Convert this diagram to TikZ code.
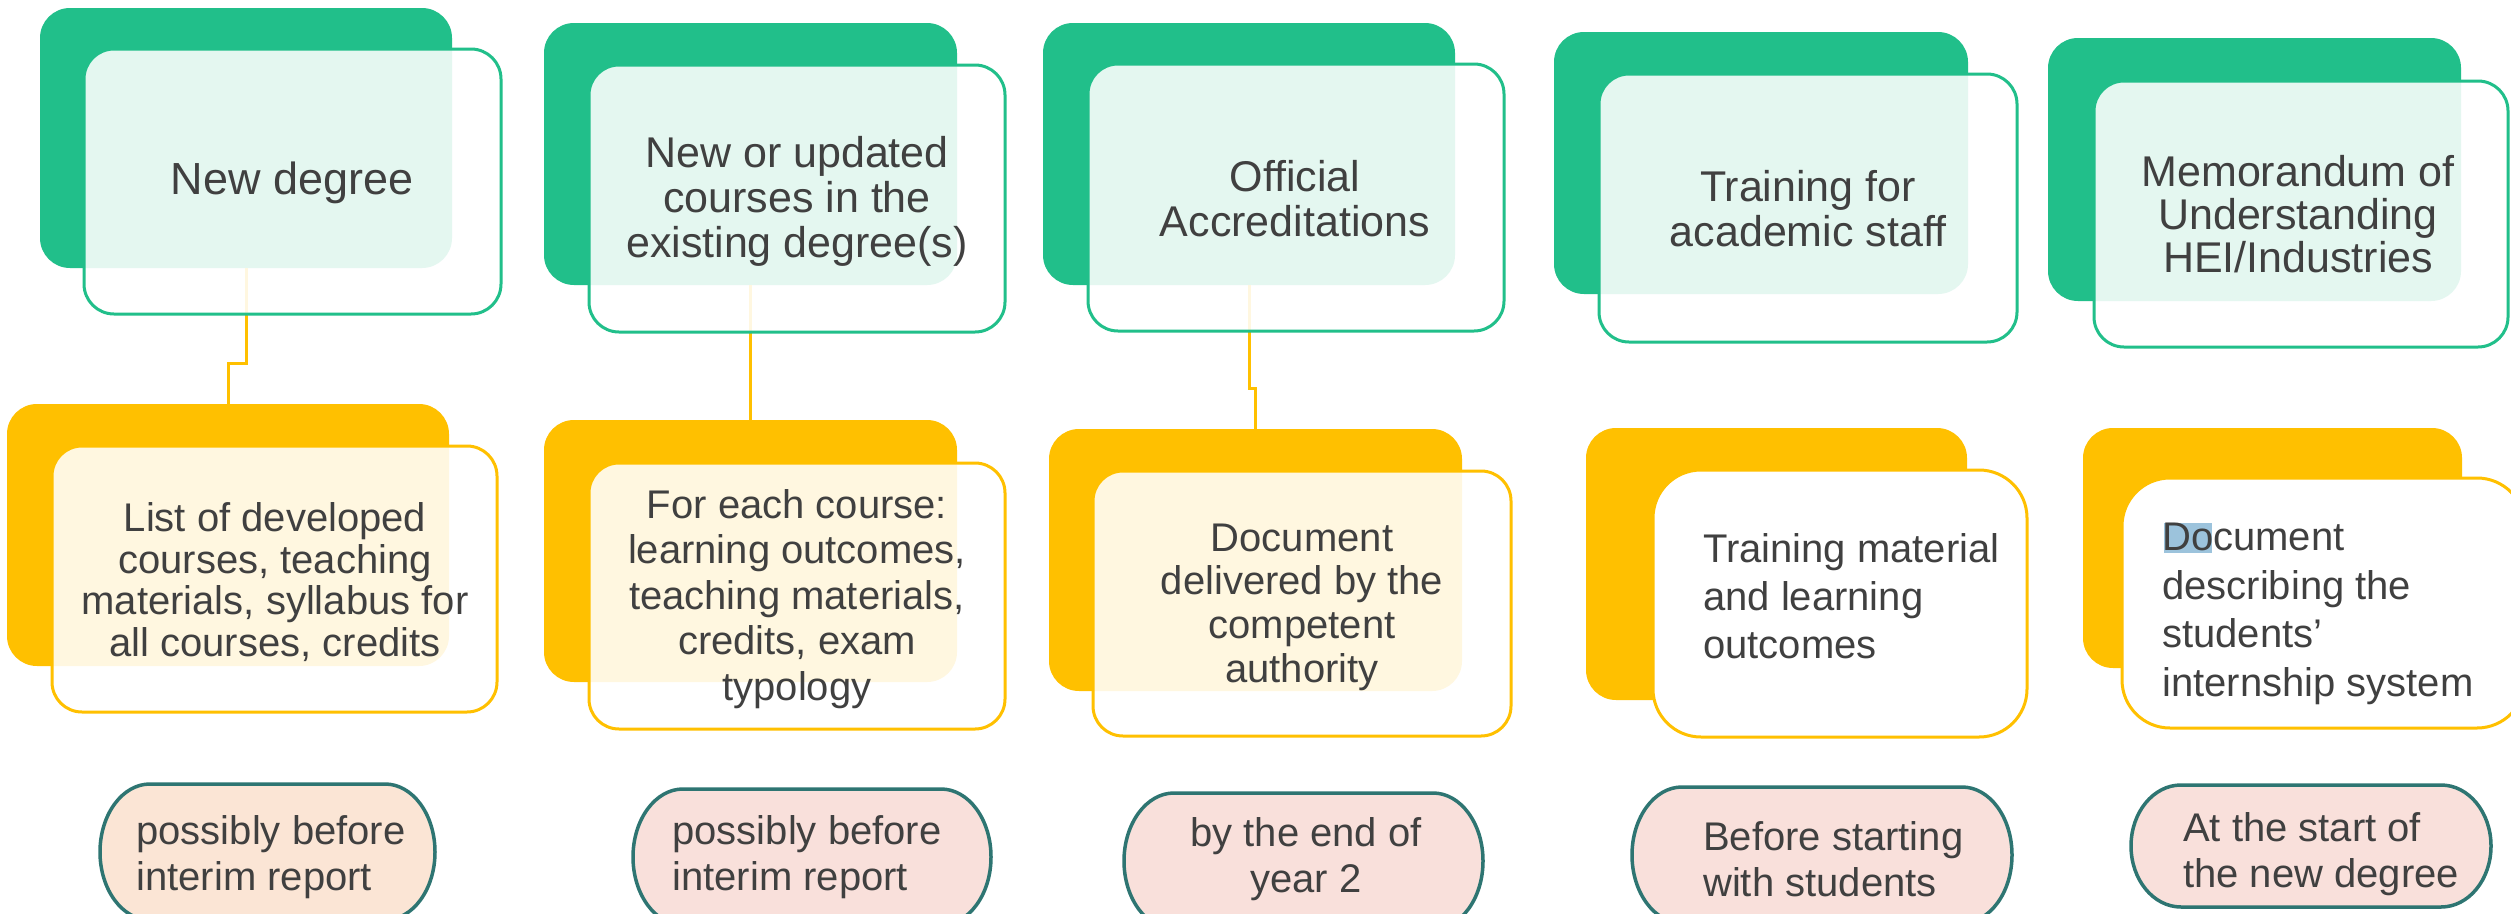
\documentclass[tikz,border=0pt]{standalone}
\usepackage{fontspec}
\setmainfont{Liberation Sans}
\definecolor{cgreen}{HTML}{21BF8A}
\definecolor{cyellow}{HTML}{FFC000}
\definecolor{cteal}{HTML}{2E7572}
\definecolor{cpeach}{HTML}{FBE5D5}
\definecolor{cpink}{HTML}{F9E0DB}
\definecolor{ctext}{HTML}{404040}
\definecolor{chl}{HTML}{9CC3DC}
\tikzset{
  box/.style={inner sep=0pt, outer sep=0pt},
  gback/.style={box, fill=cgreen, rounded corners=30pt},
  yback/.style={box, fill=cyellow, rounded corners=30pt},
  gfront/.style={box, fill=white, fill opacity=0.88, draw=cgreen, line width=3pt, rounded corners=30pt},
  yfront/.style={box, fill=white, fill opacity=0.88, draw=cyellow, line width=3pt, rounded corners=30pt},
  yfronttwo/.style={box, fill=white, draw=cyellow, line width=3pt, rounded corners=48pt},
  pillslot/.style={box},
  pillline/.style={draw=cteal, line width=3.5pt},
  link/.style={draw=cyellow, line width=3pt},
  ttop/.style={inner sep=0pt, text=ctext, align=center, font=\fontsize{43}{45}\selectfont},
  tmid/.style={inner sep=0pt, text=ctext, font=\fontsize{40}{44}\selectfont},
  tpill/.style={inner sep=0pt, text=ctext, font=\fontsize{40}{46}\selectfont},
}
\begin{document}
\begin{tikzpicture}[x=1pt,y=-1pt]
\clip (0,0) rectangle (2511,913);
\fill[white] (0,0) rectangle (2511,913);

% back boxes
\node[gback, minimum width=412pt, minimum height=260pt] (g1) at (246,138) {};
\node[gback, minimum width=413pt, minimum height=262pt] (g2) at (750.5,154) {};
\node[gback, minimum width=412pt, minimum height=262pt] (g3) at (1249,154) {};
\node[gback, minimum width=414pt, minimum height=262pt] (g4) at (1761,163) {};
\node[gback, minimum width=413pt, minimum height=263pt] (g5) at (2254.5,169.5) {};

\node[yback, minimum width=442pt, minimum height=262pt] (y1) at (228,535) {};
\node[yback, minimum width=413pt, minimum height=262pt] (y2) at (750.5,551) {};
\node[yback, minimum width=413pt, minimum height=262pt] (y3) at (1255.5,560) {};
\node[yback, minimum width=381pt, minimum height=272pt] (y4) at (1776.5,564) {};
\node[yback, minimum width=379pt, minimum height=240pt] (y5) at (2272.5,548) {};

% connectors
\coordinate (j1) at (246,363);
\coordinate (j3) at (1249,388);
\draw[link] (g1.south) -- (j1) -| (y1.north);
\draw[link] (g2.south) -- (y2.north);
\draw[link] (g3.south) -- (j3) -| (y3.north);

% front boxes
\node[gfront, minimum width=417pt, minimum height=265pt] (f1) at (292.5,181.5) {};
\node[gfront, minimum width=416pt, minimum height=267pt] (f2) at (797,198.5) {};
\node[gfront, minimum width=416pt, minimum height=267pt] (f3) at (1296,197.5) {};
\node[gfront, minimum width=418pt, minimum height=268pt] (f4) at (1808,208) {};
\node[gfront, minimum width=414pt, minimum height=266pt] (f5) at (2301,214) {};

\node[yfront, minimum width=445pt, minimum height=266pt] (h1) at (274.5,579) {};
\node[yfront, minimum width=416pt, minimum height=266pt] (h2) at (797,596) {};
\node[yfront, minimum width=418pt, minimum height=265pt] (h3) at (1302,603.5) {};
\node[yfronttwo, minimum width=374pt, minimum height=267pt] (h4) at (1840,603.5) {};
\node[yfronttwo, minimum width=403pt, minimum height=250pt] (h5) at (2323.5,603) {};

% pills (slots, then outlines with elliptical ends)
\node[pillslot, minimum width=335pt, minimum height=136pt] (p1) at (267.5,852) {};
\node[pillslot, minimum width=358pt, minimum height=136pt] (p2) at (812,857) {};
\node[pillslot, minimum width=359pt, minimum height=136pt] (p3) at (1303.5,861) {};
\node[pillslot, minimum width=380pt, minimum height=136pt] (p4) at (1822,855) {};
\node[pillslot, minimum width=360pt, minimum height=122pt] (p5) at (2311,846) {};
\foreach \p/\c/\r in {p1/cpeach/68, p2/cpink/68, p3/cpink/68, p4/cpink/68, p5/cpink/61}{
  \draw[pillline, fill=\c] ([xshift=50pt]\p.north west) -- ([xshift=-50pt]\p.north east)
    arc[start angle=270, end angle=450, x radius=50, y radius=\r]
    -- ([xshift=50pt]\p.south west)
    arc[start angle=90, end angle=270, x radius=50, y radius=\r] -- cycle;
}

% selection highlight
\fill[chl] (2164,523) rectangle (2212,553);

% top texts
\node[ttop, font=\fontsize{45}{45}\selectfont] (t1) at (292,183) {New degree};
\node[ttop] (t2) at (797,201) {New or updated\\courses in the\\existing degree(s)};
\node[ttop] (t3) at (1295,199) {Official\\Accreditations};
\node[ttop] (t4) at (1808,209) {Training for\\academic staff};
\node[ttop, font=\fontsize{43}{43}\selectfont] (t5) at (2298,214) {Memorandum of\\Understanding\\HEI/Industries};

% middle texts
\node[tmid, align=center, font=\fontsize{40}{41.5}\selectfont] (u1) at (275,582) {List of developed\\courses, teaching\\materials, syllabus for\\all courses, credits};
\node[tmid, align=center, font=\fontsize{40}{45.5}\selectfont] (u2) at (797,599) {For each course:\\learning outcomes,\\teaching materials,\\credits, exam\\typology};
\node[tmid, align=center, font=\fontsize{40}{43.6}\selectfont] (u3) at (1302,607) {Document\\delivered by the\\competent\\authority};
\node[tmid, align=left, anchor=west, font=\fontsize{40}{48}\selectfont] (u4) at (1703,596) {Training material\\and learning\\outcomes};
\node[tmid, align=left, anchor=west, font=\fontsize{40}{48.5}\selectfont] (u5) at (2162,614) {Document\\describing the\\students’\\internship system};

% pill texts
\node[tpill, align=left] (q1) at (271,857) {possibly before\\interim report};
\node[tpill, align=left] (q2) at (807,857) {possibly before\\interim report};
\node[tpill, align=center] (q3) at (1306,859) {by the end of\\year 2};
\node[tpill, align=left, anchor=west] (q4) at (1703,859) {Before starting\\with students};
\node[tpill, align=left, anchor=west] (q5) at (2183,854) {At the start of\\the new degree};
\end{tikzpicture}
\end{document}
